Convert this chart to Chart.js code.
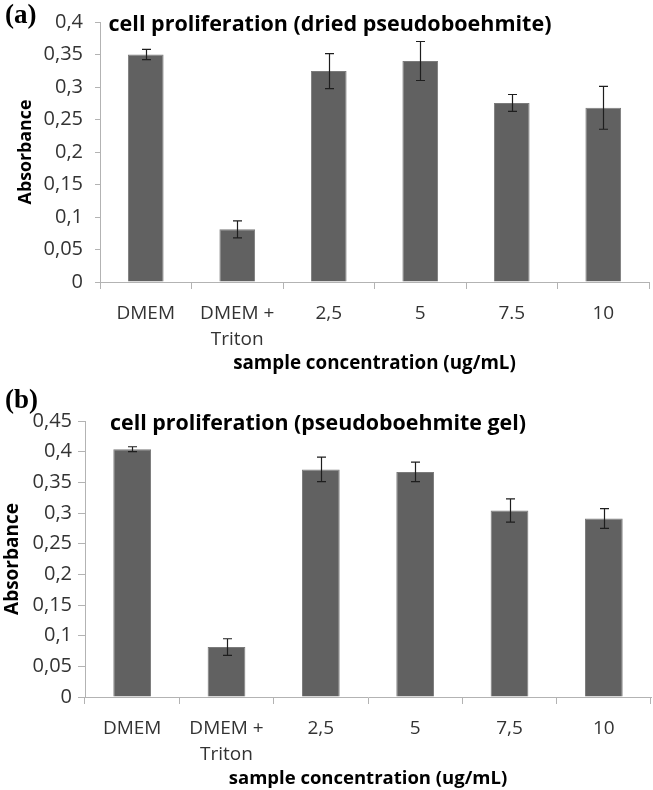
<!DOCTYPE html>
<html>
<head>
<meta charset="utf-8">
<script src="https://cdn.jsdelivr.net/npm/chart.js@4.4.1/dist/chart.umd.min.js"></script>
<style>
  body { margin: 0; background: #fff; }
  #wrap { position: relative; width: 653px; height: 790px; overflow: hidden; }
  canvas { position: absolute; left: 0; }
  .tag { position: absolute; left: 5px; font: bold 27px "Liberation Serif", serif; color: #000; }
</style>
</head>
<body>
<div id="wrap">
  <canvas id="chartA" width="653" height="375" style="top:0"></canvas>
  <canvas id="chartB" width="653" height="410" style="top:380px"></canvas>
  <div class="tag" style="top:-1px">(a)</div>
  <div class="tag" style="top:384px">(b)</div>
</div>
<script>
// panel (a): dried pseudoboehmite
const labelsA = [['DMEM'], ['DMEM +', 'Triton'], ['2,5'], ['5'], ['7.5'], ['10']];
const meansA = [0.350, 0.081, 0.3245, 0.340, 0.2755, 0.268];
const errorsA = [0.008, 0.013, 0.027, 0.030, 0.013, 0.033];
const yTicksA = ['0', '0,05', '0,1', '0,15', '0,2', '0,25', '0,3', '0,35', '0,4'];

// panel (b): pseudoboehmite gel
const labelsB = [['DMEM'], ['DMEM +', 'Triton'], ['2,5'], ['5'], ['7,5'], ['10']];
const meansB = [0.404, 0.0815, 0.371, 0.367, 0.304, 0.291];
const errorsB = [0.004, 0.0135, 0.020, 0.016, 0.019, 0.016];
const yTicksB = ['0', '0,05', '0,1', '0,15', '0,2', '0,25', '0,3', '0,35', '0,4', '0,45'];

const FONT = "'Open Sans', sans-serif";
const AXIS_GRAY = '#b3b3b3';

// error bars drawn from the y scale
const errorBars = {
  id: 'errorBars',
  afterDatasetsDraw(chart, args, opts) {
    const ctx = chart.ctx;
    const y = chart.scales.y;
    const values = chart.data.datasets[0].data;
    ctx.save();
    ctx.strokeStyle = '#1e1e1e';
    ctx.lineWidth = 1.2;
    chart.getDatasetMeta(0).data.forEach((bar, i) => {
      const hi = y.getPixelForValue(values[i] + opts.errors[i]);
      const lo = y.getPixelForValue(values[i] - opts.errors[i]);
      const x = Math.round(bar.x) + 0.5;
      ctx.beginPath();
      ctx.moveTo(x, hi); ctx.lineTo(x, lo);
      ctx.moveTo(x - 4.5, hi); ctx.lineTo(x + 4.5, hi);
      ctx.moveTo(x - 4.5, lo); ctx.lineTo(x + 4.5, lo);
      ctx.stroke();
    });
    ctx.restore();
  }
};

// chart title sitting inside the plot, like the Excel original
const panelTitle = {
  id: 'panelTitle',
  afterDraw(chart, args, opts) {
    const ctx = chart.ctx;
    ctx.save();
    ctx.font = 'bold ' + opts.size + 'px ' + FONT;
    ctx.fillStyle = '#000';
    ctx.textAlign = 'center';
    ctx.textBaseline = 'middle';
    ctx.fillText(opts.text, opts.x, chart.chartArea.top + opts.dy);
    ctx.restore();
  }
};

function makeChart(id, p) {
  return new Chart(document.getElementById(id), {
    type: 'bar',
    data: {
      labels: p.labels,
      datasets: [{
        data: p.means,
        backgroundColor: '#616161',
        borderColor: '#7b7b7b',
        borderWidth: 1,
        barPercentage: p.barPct,
        categoryPercentage: 1
      }]
    },
    plugins: [errorBars, panelTitle],
    options: {
      responsive: false,
      animation: false,
      layout: { padding: p.padding },
      plugins: {
        legend: { display: false },
        tooltip: { enabled: false },
        errorBars: { errors: p.errors },
        panelTitle: { text: p.title, x: p.titleX, dy: 3, size: p.titleSize }
      },
      scales: {
        x: {
          grid: { offset: true, drawOnChartArea: false, color: AXIS_GRAY, tickLength: 7 },
          border: { color: AXIS_GRAY },
          ticks: { color: '#333', padding: 11, maxRotation: 0, autoSkip: false,
                   font: { family: FONT, size: p.xTickSize, lineHeight: 1.4 } },
          title: { display: true, text: 'sample concentration (ug/mL)', color: '#000',
                   padding: { top: 0, bottom: 0 },
                   font: { family: FONT, size: p.xTitleSize, weight: 'bold' } },
          afterFit(scale) { scale.height = p.xHeight; }
        },
        y: {
          min: 0,
          max: p.yMax,
          grid: { drawOnChartArea: false, color: AXIS_GRAY, tickLength: p.yTickLen },
          border: { color: AXIS_GRAY },
          ticks: { stepSize: 0.05, color: '#333', padding: p.yTickPad,
                   font: { family: FONT, size: p.yTickSize, lineHeight: 1 },
                   callback: (v, i) => p.yTicks[i] },
          title: { display: true, text: 'Absorbance', color: '#000',
                   padding: { top: p.yTitlePad, bottom: 0 },
                   font: { family: FONT, size: p.yTitleSize, weight: 'bold' } },
          afterFit(scale) { scale.width = p.yWidth; }
        }
      }
    }
  });
}

makeChart('chartA', {
  labels: labelsA, means: meansA, errors: errorsA, yTicks: yTicksA, yMax: 0.4,
  title: 'cell proliferation (dried pseudoboehmite)', titleX: 330, titleSize: 21.5,
  padding: { top: 10, right: 4, bottom: 0, left: 0 },
  barPct: 0.39, xTickSize: 19, yTickSize: 20, xTitleSize: 18.8, yTitleSize: 17.8, xHeight: 93,
  yWidth: 100, yTickLen: 5, yTickPad: 12, yTitlePad: 15
});

makeChart('chartB', {
  labels: labelsB, means: meansB, errors: errorsB, yTicks: yTicksB, yMax: 0.45,
  title: 'cell proliferation (pseudoboehmite gel)', titleX: 318, titleSize: 21.4,
  padding: { top: 41, right: 2, bottom: 0, left: 0 },
  barPct: 0.4, xTickSize: 19, yTickSize: 20, xTitleSize: 18.5, yTitleSize: 19, xHeight: 93,
  yWidth: 85, yTickLen: 7, yTickPad: 6, yTitlePad: 1
});
</script>
</body>
</html>
